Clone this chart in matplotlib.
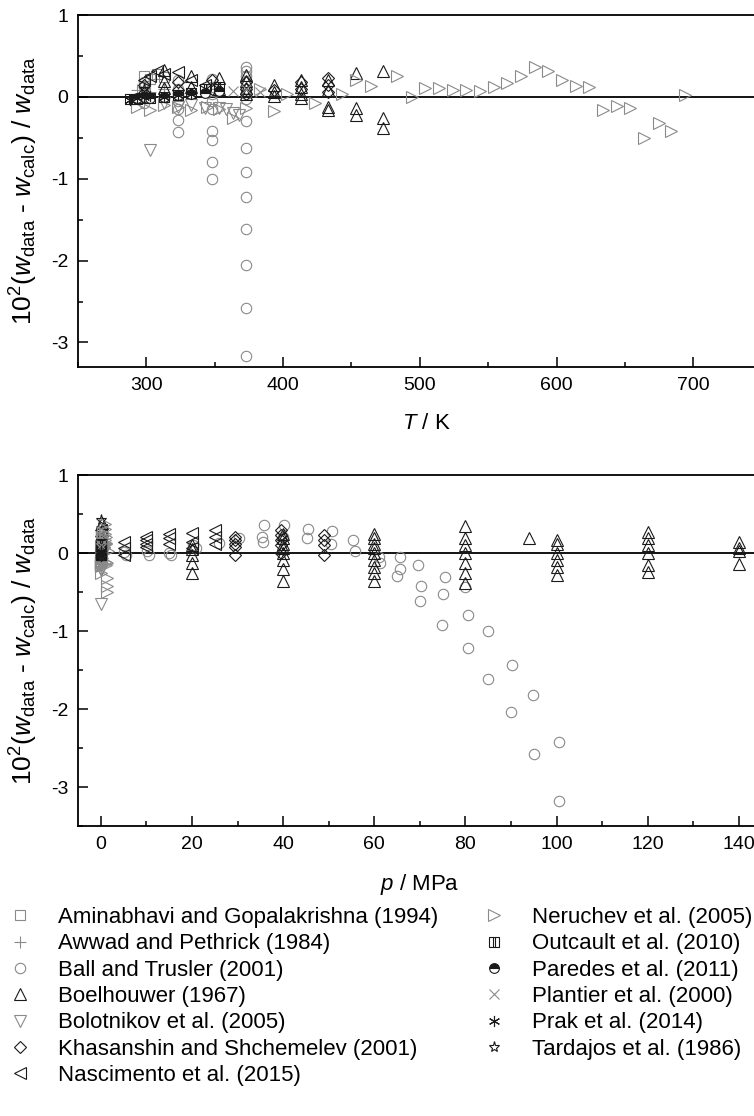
import matplotlib
matplotlib.use('Agg')
import matplotlib.pyplot as plt
from matplotlib.path import Path
from matplotlib.lines import Line2D
from matplotlib.ticker import MultipleLocator, FuncFormatter

plt.rcParams['font.family'] = 'Liberation Sans'
plt.rcParams['mathtext.fontset'] = 'custom'
plt.rcParams['mathtext.rm'] = 'Liberation Sans'
plt.rcParams['mathtext.it'] = 'Liberation Sans:italic'
plt.rcParams['axes.unicode_minus'] = False

# ---- deviations vs temperature (top panel) ----
aminabhavi_T = [298, 303, 308, 313]
aminabhavi_dev = [0.26, 0.22, 0.28, 0.24]

awwad_T = [293, 298, 303, 313, 323]
awwad_dev = [0.08, 0.12, 0.06, 0.10, 0.05]

ball_T = [298, 298, 298, 298, 298,
          323, 323, 323, 323, 323, 323, 323,
          348, 348, 348, 348, 348, 348, 348, 348, 348,
          373, 373, 373, 373, 373, 373, 373, 373, 373, 373, 373, 373, 373, 373, 373]
ball_dev = [0.18, 0.12, 0.05, -0.02, -0.08,
            0.20, 0.10, 0.02, -0.05, -0.15, -0.28, -0.43,
            0.22, 0.12, 0.03, -0.05, -0.15, -0.42, -0.53, -0.80, -1.00,
            0.36, 0.31, 0.25, 0.18, 0.10, 0.03, -0.03, -0.30, -0.62, -0.92, -1.22, -1.62, -2.05, -2.58, -3.17]

boel_T = [313, 313, 313, 333, 333, 353, 353, 373, 373, 373, 373, 393, 393, 393,
          413, 413, 413, 413, 433, 433, 433, 433, 453, 453, 453, 473, 473, 473]
boel_dev = [0.33, 0.19, 0.11, 0.26, 0.12, 0.23, 0.10, 0.27, 0.19, 0.11, 0.04, 0.15, 0.06, 0.01,
            0.20, 0.12, 0.04, -0.02, 0.20, 0.08, -0.12, -0.16, 0.29, -0.13, -0.22, 0.31, -0.26, -0.38]

bolot_T = [303, 313, 323, 333, 343, 353, 358, 363, 368]
bolot_dev = [-0.65, -0.08, -0.12, -0.10, -0.13, -0.14, -0.15, -0.20, -0.22]

khas_T = [298, 298, 323, 323, 348, 348, 373, 373, 373, 393, 413, 413, 433, 433, 433]
khas_dev = [0.15, 0.05, 0.18, 0.08, 0.20, 0.10, 0.18, 0.10, 0.04, 0.08, 0.18, 0.10, 0.23, 0.15, 0.06]

nasc_T = [298, 303, 308, 313, 323, 333, 343]
nasc_dev = [0.20, 0.26, 0.31, 0.28, 0.30, 0.20, 0.15]

neru_T = [293, 303, 313, 323, 333, 344, 353, 363, 373, 383, 393, 403, 423, 443, 453,
          464, 483, 494, 504, 514, 524, 534, 544, 554, 564, 574, 584, 594, 604, 614,
          624, 634, 644, 654, 664, 675, 684, 694]
neru_dev = [-0.12, -0.16, -0.10, -0.12, -0.16, -0.12, -0.15, -0.26, -0.14, 0.09, -0.17, 0.04, -0.07, 0.04, 0.21,
            0.13, 0.26, 0.00, 0.11, 0.11, 0.08, 0.08, 0.07, 0.12, 0.17, 0.25, 0.37, 0.31, 0.21, 0.13,
            0.12, -0.16, -0.11, -0.13, -0.50, -0.32, -0.42, 0.02]

outc_T = [288, 293, 298, 303, 313, 323, 333, 343, 353]
outc_dev = [-0.03, -0.03, -0.02, -0.01, 0.00, 0.02, 0.05, 0.10, 0.12]

pared_T = [293, 298, 303, 313, 323, 333, 343, 353]
pared_dev = [-0.01, 0.00, -0.01, 0.00, 0.02, 0.03, 0.05, 0.07]

plant_T = [363, 373, 383]
plant_dev = [0.07, 0.10, 0.06]

prak_T = [288, 293, 298, 303, 313, 323, 333]
prak_dev = [-0.04, -0.02, 0.00, 0.01, 0.00, 0.02, 0.03]

tard_T = [298]
tard_dev = [0.10]

# ---- deviations vs pressure (bottom panel) ----
aminabhavi_p = [0.1, 0.1, 0.1, 0.1]
awwad_p = [0.1, 0.1, 0.1, 0.1, 0.1]

ball_p = [5.5, 5.0, 10.6, 10.2, 15.4, 15.0, 20.9, 20.3, 26.0, 30.4, 35.9, 35.4, 35.7, 40.3, 40.0,
          45.4, 45.2, 50.8, 50.5, 55.3, 55.8, 61.2, 61.0, 65.6, 65.7, 65.0, 69.7, 70.3, 70.1,
          75.6, 75.0, 74.9, 80.0, 80.5, 80.6, 84.9, 85.0, 90.2, 90.1, 94.9, 95.0, 100.6, 100.6]
ball_dp = [-0.03, 0.01, -0.03, 0.02, -0.03, 0.00, 0.06, 0.10, 0.13, 0.19, 0.36, 0.20, 0.14, 0.36, 0.20,
           0.31, 0.19, 0.28, 0.12, 0.17, 0.03, -0.13, -0.05, -0.05, -0.20, -0.30, -0.15, -0.42, -0.62,
           -0.31, -0.53, -0.92, -0.44, -0.80, -1.22, -1.00, -1.62, -1.44, -2.04, -1.82, -2.58, -2.42, -3.18]

boel_p = [0.3, 0.3, 0.3, 0.3,
          20, 20, 20, 20, 20,
          40, 40, 40, 40, 40, 40, 40, 40,
          60, 60, 60, 60, 60, 60, 60, 60, 60,
          80, 80, 80, 80, 80, 80, 80,
          94,
          100, 100, 100, 100, 100, 100,
          120, 120, 120, 120, 120, 120,
          140, 140, 140, 140]
boel_dp = [0.38, 0.29, 0.18, 0.08,
           0.10, 0.05, -0.03, -0.13, -0.26,
           0.25, 0.19, 0.12, 0.06, 0.00, -0.09, -0.20, -0.36,
           0.25, 0.19, 0.12, 0.06, 0.00, -0.09, -0.18, -0.26, -0.36,
           0.34, 0.19, 0.10, 0.00, -0.13, -0.26, -0.39,
           0.19,
           0.17, 0.12, 0.00, -0.09, -0.18, -0.28,
           0.27, 0.19, 0.10, 0.00, -0.15, -0.24,
           0.14, 0.06, 0.02, -0.14]

bolot_p = [0.1, 0.1, 0.1, 0.1, 0.1, 0.1, 0.1, 0.1, 0.1]

khas_p = [0.1, 0.1, 29.5, 29.5, 29.5, 29.5, 29.5, 39.5, 39.5, 39.5, 39.5, 39.5, 49, 49, 49, 49]
khas_dp = [0.15, 0.05, 0.21, 0.17, 0.12, 0.08, -0.03, 0.29, 0.23, 0.17, 0.10, 0.00, 0.23, 0.17, 0.10, -0.03]

nasc_p = [0.1, 0.1, 0.1, 5, 5, 5, 10, 10, 10, 10, 15, 15, 15, 20, 20, 20, 25, 25, 25]
nasc_dp = [0.30, 0.22, 0.12, 0.14, 0.06, -0.03, 0.21, 0.17, 0.12, 0.08, 0.25, 0.19, 0.12,
           0.26, 0.14, 0.06, 0.29, 0.21, 0.12]

neru_p = [0.1, 0.1, 0.1, 0.1, 0.1, 0.1, 0.1, 0.1, 0.1, 0.12, 0.15, 0.2, 0.25, 0.3, 0.35,
          0.4, 0.45, 0.5, 0.55, 0.6, 0.65, 0.7, 0.75, 0.8, 0.85, 0.9, 0.95, 1.0, 1.05, 1.1,
          1.15, 1.2, 1.25, 1.3, 1.35, 1.4, 1.45, 1.5]

outc_p = [0.1, 0.1, 0.1, 0.1, 0.1, 0.1, 0.1, 0.1, 0.1]
pared_p = [0.1, 0.1, 0.1, 0.1, 0.1, 0.1, 0.1, 0.1]
plant_p = [0.1, 0.1, 0.1]
prak_p = [0.1, 0.1, 0.1, 0.1, 0.1, 0.1, 0.1]
tard_p = [0.1]
tard_dp = [0.42]

labels = ['Aminabhavi and Gopalakrishna (1994)', 'Awwad and Pethrick (1984)',
          'Ball and Trusler (2001)', 'Boelhouwer (1967)', 'Bolotnikov et al. (2005)',
          'Khasanshin and Shchemelev (2001)', 'Nascimento et al. (2015)',
          'Neruchev et al. (2005)', 'Outcault et al. (2010)', 'Paredes et al. (2011)',
          'Plantier et al. (2000)', 'Prak et al. (2014)', 'Tardajos et al. (1986)']

GRAY = '#8a8a8a'
DARK = '#1a1a1a'

# square with two vertical bars (Outcault)
outc_marker = Path([(-1, -1), (1, -1), (1, 1), (-1, 1), (-1, -1),
                    (-0.3, -1), (-0.3, 1), (0.3, -1), (0.3, 1)],
                   [Path.MOVETO, Path.LINETO, Path.LINETO, Path.LINETO, Path.CLOSEPOLY,
                    Path.MOVETO, Path.LINETO, Path.MOVETO, Path.LINETO])

styles = [
    dict(marker='s', mec=GRAY, mfc='none', ms=7),
    dict(marker='+', mec=GRAY, mfc='none', ms=8),
    dict(marker='o', mec=GRAY, mfc='none', ms=7.5),
    dict(marker='^', mec=DARK, mfc='none', ms=8.5),
    dict(marker='v', mec=GRAY, mfc='none', ms=8.5),
    dict(marker='D', mec=DARK, mfc='none', ms=6.5),
    dict(marker='<', mec=DARK, mfc='none', ms=8.5),
    dict(marker='>', mec=GRAY, mfc='none', ms=8.5),
    dict(marker=outc_marker, mec=DARK, mfc='none', ms=7),
    dict(marker='o', mec=DARK, mfc=DARK, mfcalt='white', fillstyle='top', ms=7),
    dict(marker='x', mec=GRAY, mfc='none', ms=7),
    dict(marker=(6, 2, 0), mec=DARK, mfc='none', ms=8),
    dict(marker='*', mec=DARK, mfc='none', ms=8),
]

top_data = [(aminabhavi_T, aminabhavi_dev), (awwad_T, awwad_dev), (ball_T, ball_dev),
            (boel_T, boel_dev), (bolot_T, bolot_dev), (khas_T, khas_dev), (nasc_T, nasc_dev),
            (neru_T, neru_dev), (outc_T, outc_dev), (pared_T, pared_dev), (plant_T, plant_dev),
            (prak_T, prak_dev), (tard_T, tard_dev)]

bottom_data = [(aminabhavi_p, aminabhavi_dev), (awwad_p, awwad_dev), (ball_p, ball_dp),
               (boel_p, boel_dp), (bolot_p, bolot_dev), (khas_p, khas_dp), (nasc_p, nasc_dp),
               (neru_p, neru_dev), (outc_p, outc_dev), (pared_p, pared_dev), (plant_p, plant_dev),
               (prak_p, prak_dev), (tard_p, tard_dp)]

ylab = r'$10^2(w_\mathrm{data}$ - $w_\mathrm{calc})$ / $w_\mathrm{data}$'

fig = plt.figure(figsize=(7.54, 11.16), dpi=100)
ax1 = fig.add_axes([78 / 754, 1 - 367 / 1116, 752 / 754, 352 / 1116])
ax2 = fig.add_axes([78 / 754, 1 - 826 / 1116, 752 / 754, 351 / 1116])


def style_axes(ax, xmax_label):
    for s in ['left', 'top', 'bottom', 'right']:
        ax.spines[s].set_linewidth(1.3)
    ax.tick_params(which='both', direction='in', labelsize=14, width=1.1)
    ax.tick_params(which='major', length=7, pad=7)
    ax.tick_params(which='minor', length=3.5)
    ax.yaxis.set_major_locator(MultipleLocator(1))
    ax.yaxis.set_minor_locator(MultipleLocator(0.5))
    # labels beyond the picture edge are not shown
    ax.xaxis.set_major_formatter(FuncFormatter(lambda v, pos: '%g' % v if v <= xmax_label else ''))
    ax.axhline(0, color='black', lw=1.3, zorder=1)
    ax.set_ylabel(ylab, fontsize=19)
    ax.yaxis.set_label_coords(-0.051, 0.5)


for data, st in zip(top_data, styles):
    ax1.plot(data[0], data[1], ls='none', mew=0.8, zorder=3, **st)
ax1.set_xlim(250, 800)
ax1.set_ylim(-3.3, 1)
ax1.xaxis.set_major_locator(MultipleLocator(100))
ax1.xaxis.set_minor_locator(MultipleLocator(50))
style_axes(ax1, 700)
ax1.set_xlabel(r'$T$ / K', fontsize=16)
ax1.xaxis.set_label_coords(0.463, -0.13)

for data, st in zip(bottom_data, styles):
    ax2.plot(data[0], data[1], ls='none', mew=0.8, zorder=3, **st)
ax2.set_xlim(-5, 160)
ax2.set_ylim(-3.5, 1)
ax2.xaxis.set_major_locator(MultipleLocator(20))
ax2.xaxis.set_minor_locator(MultipleLocator(10))
style_axes(ax2, 140)
ax2.set_xlabel(r'$p$ / MPa', fontsize=16)
ax2.xaxis.set_label_coords(0.455, -0.13)

handles = [Line2D([], [], ls='none', mew=0.8, **st) for st in styles]

leg_kw = dict(loc='upper left', frameon=False, fontsize=16, handlelength=1.6,
              handletextpad=0.9, labelspacing=0.24, borderpad=0, borderaxespad=0)
leg1 = fig.legend(handles[:7], labels[:7], bbox_to_anchor=(2 / 754, 1 - 907 / 1116), **leg_kw)
leg2 = fig.legend(handles[7:], labels[7:], bbox_to_anchor=(476 / 754, 1 - 907 / 1116), **leg_kw)

fig.savefig('out.png', dpi=100)
